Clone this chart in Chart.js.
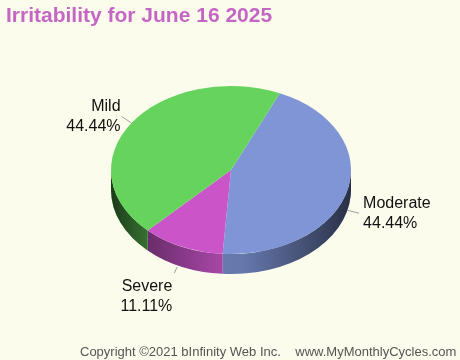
<!DOCTYPE html>
<html>
<head>
<meta charset="utf-8">
<script src="https://cdn.jsdelivr.net/npm/chart.js@4.4.1/dist/chart.umd.min.js"></script>
<style>
  body { margin: 0; background: #fcfcec; }
  canvas { display: block; }
</style>
</head>
<body>
<canvas id="grafica" width="460" height="360"></canvas>
<script>
// data (clockwise from the top)
const labels = ['Moderate', 'Severe', 'Mild'];
const values = [4, 1, 4];
const colors = ['#7f95d6', '#c955c9', '#66d45c'];

const titleText = 'Irritability for June 16 2025';
const footerText = 'Copyright \u00a92021 bInfinity Web Inc.    www.MyMonthlyCycles.com';

const squash = 0.7;   // vertical tilt of the pie
const depth = 20;     // thickness of the side

const total = values.reduce((a, b) => a + b, 0);

// tilt the top face and draw the side under it
const pie3d = {
  id: 'pie3d',
  beforeDatasetsDraw(chart) {
    const ctx = chart.ctx;
    const arcs = chart.getDatasetMeta(0).data;
    const cx = arcs[0].x, cy = arcs[0].y, r = arcs[0].outerRadius;
    const ry = r * squash;

    arcs.forEach((arc, i) => {
      // clip the slice to the front half (0..PI)
      let s = arc.startAngle, e = arc.endAngle;
      const pieces = [];
      for (let k = -1; k <= 1; k++) {
        const a = Math.max(s, k * 2 * Math.PI);
        const b = Math.min(e, k * 2 * Math.PI + Math.PI);
        if (b > a) pieces.push([a, b]);
      }
      pieces.forEach(([a, b]) => {
        ctx.save();
        ctx.beginPath();
        ctx.ellipse(cx, cy, r, ry, 0, a, b);
        ctx.ellipse(cx, cy + depth, r, ry, 0, b, a, true);
        ctx.closePath();
        ctx.fillStyle = colors[i];
        ctx.fill();
        const g = ctx.createLinearGradient(cx - r, 0, cx + r, 0);
        g.addColorStop(0, 'rgba(0,0,0,0.72)');
        g.addColorStop(0.15, 'rgba(0,0,0,0.48)');
        g.addColorStop(0.45, 'rgba(0,0,0,0.18)');
        g.addColorStop(0.55, 'rgba(0,0,0,0.2)');
        g.addColorStop(0.8, 'rgba(0,0,0,0.45)');
        g.addColorStop(1, 'rgba(0,0,0,0.68)');
        ctx.fillStyle = g;
        ctx.fill();
        ctx.restore();
      });
    });

    ctx.save();
    ctx.translate(cx, cy);
    ctx.scale(1, squash);
    ctx.translate(-cx, -cy);
  },
  afterDatasetsDraw(chart) {
    chart.ctx.restore();
  },
  afterDraw(chart) {
    const ctx = chart.ctx;
    const arcs = chart.getDatasetMeta(0).data;
    const cx = arcs[0].x, cy = arcs[0].y, r = arcs[0].outerRadius;
    const ry = r * squash;

    ctx.save();
    ctx.font = '16px "Liberation Sans", Arial, sans-serif';
    ctx.textBaseline = 'middle';
    arcs.forEach((arc, i) => {
      const mid = (arc.startAngle + arc.endAngle) / 2;
      const c = Math.cos(mid), s = Math.sin(mid);
      const vertical = Math.abs(s) > 0.8;
      const x0 = cx + r * c - (vertical ? 5 : 0);
      const y0 = cy + ry * s + (s > 0 ? depth : 0);
      const len = vertical ? 7 : 12;
      const x1 = x0 + c * len, y1 = y0 + s * len;
      ctx.strokeStyle = '#a0a0a0';
      ctx.lineWidth = 1;
      ctx.beginPath();
      ctx.moveTo(x0, y0);
      ctx.lineTo(x1, y1);
      ctx.stroke();

      const pct = (values[i] / total * 100).toFixed(2) + '%';
      const lines = [labels[i], pct];
      ctx.fillStyle = '#111';
      let tx, ty;
      ctx.textAlign = c < 0 ? 'right' : 'left';
      if (vertical) {
        tx = x1 + (c < 0 ? -2 : 2);
        ty = s > 0 ? y1 + 13 : y1 - 30;
      } else {
        tx = x1 + (c < 0 ? -1 : 4);
        ty = y1 - 10;
      }
      lines.forEach((t, j) => ctx.fillText(t, tx, ty + j * 20));
    });
    ctx.restore();

    // title and footer
    ctx.save();
    ctx.textBaseline = 'alphabetic';
    ctx.textAlign = 'left';
    ctx.fillStyle = '#c466c4';
    ctx.font = 'bold 21px "Liberation Sans", Arial, sans-serif';
    ctx.fillText(titleText, 6, 22);
    ctx.fillStyle = '#555555';
    ctx.font = '13px "Liberation Sans", Arial, sans-serif';
    ctx.fillText(footerText, 80, 356);
    ctx.restore();
  }
};

const ctx = document.getElementById('grafica').getContext('2d');
new Chart(ctx, {
  type: 'pie',
  data: {
    labels: labels,
    datasets: [{
      data: values,
      backgroundColor: colors,
      borderWidth: 0
    }]
  },
  options: {
    responsive: false,
    animation: false,
    rotation: 24,
    layout: { padding: { left: 111, right: 109, top: 50, bottom: 70 } },
    plugins: {
      legend: { display: false },
      tooltip: { enabled: false },
      title: { display: false }
    }
  },
  plugins: [pie3d]
});
</script>
</body>
</html>
